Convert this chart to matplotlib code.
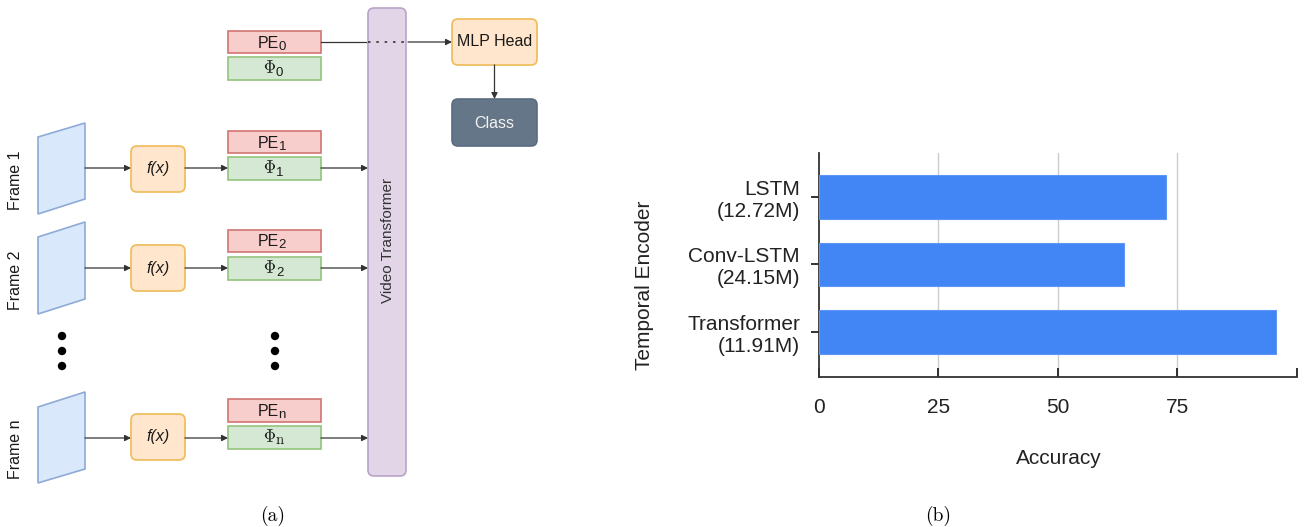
import matplotlib
matplotlib.use('Agg')
import matplotlib.pyplot as plt
from matplotlib.patches import FancyBboxPatch, Rectangle, Polygon, Circle

plt.rcParams['font.family'] = ['Liberation Sans', 'DejaVu Sans']
plt.rcParams['mathtext.fontset'] = 'cm'

# ---------------- data ----------------
categories = ['LSTM\n(12.72M)', 'Conv-LSTM\n(24.15M)', 'Transformer\n(11.91M)']
accuracy = [72.7, 63.8, 95.6]
xticks = [0, 25, 50, 75, 100]
xtick_labels = ['0', '25', '50', '75', '']
x_label = 'Accuracy'
y_label = 'Temporal Encoder'

frame_labels = ['Frame 1', 'Frame 2', 'Frame n']
token_subscripts = ['0', '1', '2', 'n']
encoder_label = 'f(x)'
transformer_label = 'Video Transformer'
head_label = 'MLP Head'
class_label = 'Class'
captions = ['(a)', '(b)']

# ---------------- figure ----------------
W, H = 1304, 527
fig = plt.figure(figsize=(W / 100, H / 100), dpi=100)
dax = fig.add_axes([0, 0, 1, 1])
dax.set_xlim(0, W)
dax.set_ylim(H, 0)
dax.axis('off')

RED = ('#f8cecc', '#d07572')
GREEN = ('#d5e8d4', '#94c47e')
BLUE = ('#dae8fc', '#8eaad6')
ORANGE = ('#ffe6cc', '#efbb58')
PURPLE = ('#e1d5e7', '#b9a3c8')
DARK = ('#647687', '#5a6d80')
TXT = '#1a1a1a'
FS = 11.5


def rbox(x0, y0, x1, y1, col, r=5, lw=1.2):
    p = FancyBboxPatch((x0, y0), x1 - x0, y1 - y0,
                       boxstyle=f'round,pad=0,rounding_size={r}',
                       fc=col[0], ec=col[1], lw=lw)
    dax.add_patch(p)


def rect(x0, y0, x1, y1, col):
    dax.add_patch(Rectangle((x0, y0), x1 - x0, y1 - y0, fc=col[0], ec=col[1], lw=1.2))


def arrow(x0, y0, x1, y1):
    dax.annotate('', xy=(x1, y1), xytext=(x0, y0),
                 arrowprops=dict(arrowstyle='-|>', color='#333333', lw=0.9,
                                 mutation_scale=9, shrinkA=0, shrinkB=0))


def pe_box(y0, y1, sub):
    rect(228, y0, 321, y1, RED)
    base = (y0 + y1) / 2 + 5.5
    dax.text(279, base, 'PE', ha='right', va='baseline', fontsize=11.5, color=TXT)
    dax.text(278.5, base + 2, sub, ha='left', va='baseline', fontsize=9.5, color=TXT)


def phi_box(y0, y1, sub):
    rect(228, y0, 321, y1, GREEN)
    base = (y0 + y1) / 2 + 5
    dax.text(276, base, '$\\Phi$', ha='right', va='baseline', fontsize=12, color=TXT)
    if sub.isdigit():
        dax.text(276, base + 2, sub, ha='left', va='baseline', fontsize=9.5, color=TXT)
    else:
        dax.text(276, base + 2, sub, ha='left', va='baseline', fontsize=10.5,
                 family='cmr10', color=TXT)


# video transformer
rbox(368, 8, 406, 476, PURPLE, r=6)
dax.text(388, 240, transformer_label, rotation=90, ha='center', va='center',
         fontsize=11, color='#333333')

# MLP head and class
rbox(452, 19, 537, 65, ORANGE, r=6)
dax.text(494.5, 42, head_label, ha='center', va='center', fontsize=FS, color=TXT)
rbox(452, 99, 537, 146, DARK, r=6)
dax.text(494.5, 123, class_label, ha='center', va='center', fontsize=FS, color='#f2f2f2')
arrow(494.5, 65, 494.5, 99)

# PE0 / Phi0 (class token)
pe_box(31, 53, token_subscripts[0])
phi_box(57, 80, token_subscripts[0])
dax.plot([321, 366], [42, 42], color='#333333', lw=0.9)
dax.plot([368, 406], [42, 42], color='#333333', lw=1.2, ls=(0, (1.5, 3.5)))
arrow(408, 42, 452, 42)

# frame rows
rows = [
    dict(top_r=123, bot_r=199, top_l=137, bot_l=214, y=168, fx=(146, 192), pe=(131, 153), phi=(157, 180), lab=180),
    dict(top_r=222, bot_r=299, top_l=237, bot_l=314, y=268, fx=(245, 291), pe=(230, 252), phi=(257, 280), lab=280),
    dict(top_r=392, bot_r=469, top_l=407, bot_l=483, y=438, fx=(414, 460), pe=(399, 422), phi=(426, 449), lab=449),
]
for i, r in enumerate(rows):
    dax.add_patch(Polygon([(38, r['top_l']), (85, r['top_r']), (85, r['bot_r']), (38, r['bot_l'])],
                          closed=True, fc=BLUE[0], ec=BLUE[1], lw=1.2))
    dax.text(16, r['lab'], frame_labels[i], rotation=90, ha='center', va='center',
             fontsize=FS, color=TXT)
    rbox(131, r['fx'][0], 185, r['fx'][1], ORANGE, r=6)
    dax.text(158, (r['fx'][0] + r['fx'][1]) / 2, encoder_label, ha='center', va='center',
             fontsize=FS, style='italic', color=TXT)
    pe_box(r['pe'][0], r['pe'][1], token_subscripts[i + 1])
    phi_box(r['phi'][0], r['phi'][1], token_subscripts[i + 1])
    y = r['y']
    arrow(85, y, 131, y)
    arrow(185, y, 228, y)
    arrow(321, y, 368, y)

# ellipsis dots
for cx in (62, 275):
    for cy in (336, 351, 366):
        dax.add_patch(Circle((cx, cy), 4.2, fc='black', ec='none'))

# captions
dax.text(273, 516, captions[0], ha='center', va='center', fontsize=14, family='cmr10')
dax.text(938, 516, captions[1], ha='center', va='center', fontsize=14, family='cmr10')

# ---------------- bar chart ----------------
x0p, x1p, ytp, ybp = 818.5, 1297, 153.3, 376.7
ax = fig.add_axes([x0p / W, (H - ybp) / H, (x1p - x0p) / W, (ybp - ytp) / H])
ypos = list(range(len(categories)))
ax.barh(ypos, accuracy, height=0.646, color='#4285f4', edgecolor='#5e97f5', lw=0.8, zorder=3)
ax.set_xlim(0, 100)
ax.set_ylim(2.662, -0.647)
ax.set_yticks(ypos)
ax.set_yticklabels(categories)
ax.set_xticks(xticks)
ax.set_xticklabels(xtick_labels)
for s in ('top', 'right'):
    ax.spines[s].set_visible(False)
for s in ('left', 'bottom'):
    ax.spines[s].set_color('#333333')
    ax.spines[s].set_linewidth(1.3)
ax.tick_params(axis='y', direction='inout', length=11.5, width=1.3, pad=7.6,
               labelsize=15, colors='#222222')
ax.tick_params(axis='x', direction='in', length=6.5, width=1.3, pad=15,
               labelsize=15, colors='#222222')
ax.set_facecolor('none')
ax.grid(axis='x', color='#cccccc', lw=1)
ax.set_axisbelow(True)
gl = ax.xaxis.get_gridlines()
gl[0].set_visible(False)
gl[-1].set_visible(False)

fig.text(645 / W, 1 - 285 / H, y_label, rotation=90, ha='center', va='center',
         fontsize=15, color='#222222')
fig.text(1059 / W, 1 - 459 / H, x_label, ha='center', va='center',
         fontsize=15, color='#222222')

fig.savefig('out.png', dpi=100)
